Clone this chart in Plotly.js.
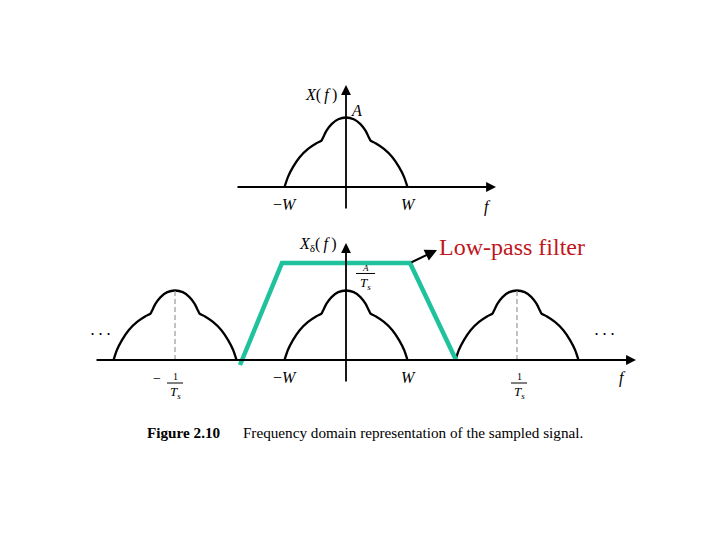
<!DOCTYPE html>
<html>
<head>
<meta charset="utf-8">
<script src="https://cdn.plot.ly/plotly-3.0.1.min.js"></script>
<style>html,body{margin:0;padding:0;background:#fff;}#chart{width:720px;height:540px;}</style>
</head>
<body>
<div id="chart"></div>
<script>
// Spectrum shape X(f), f in units of W, amplitude in units of A
const shapeF = [-1.0, -0.945, -0.863, -0.754, -0.617, -0.481, -0.399, -0.372, -0.317, -0.235, -0.126, 0,
                0.126, 0.235, 0.317, 0.372, 0.399, 0.481, 0.617, 0.754, 0.863, 0.945, 1.0];
const shapeA = [0, 0.143, 0.286, 0.429, 0.548, 0.629, 0.667, 0.714, 0.810, 0.905, 0.976, 1.0,
                0.976, 0.905, 0.810, 0.714, 0.667, 0.629, 0.548, 0.429, 0.286, 0.143, 0];
// Replica centres (multiples of 1/Ts), in units of W
const copyCenters = [-2.78, 0, 2.78];
// Low-pass filter outline
const filterF = [-1.724, -1.041, 1.041, 1.789];
const filterA = [-0.072, 1.396, 1.396, 0];
// Tick / label texts
const topLabels = ["\u2212<i>W</i>", "<i>W</i>"];
const topLabelF = [-0.992, 1.008];

const serif = "Liberation Serif, Times New Roman, serif";
const traces = [];
// Top: X(f)
traces.push({x: shapeF, y: shapeA, xaxis: 'x', yaxis: 'y', mode: 'lines',
  line: {color: '#000', width: 2.3, shape: 'spline', smoothing: 0.6}, hoverinfo: 'skip'});
// Bottom: replicas
copyCenters.forEach(c => {
  traces.push({x: shapeF.map(f => f + c), y: shapeA, xaxis: 'x', yaxis: 'y2', mode: 'lines',
    line: {color: '#000', width: 2.3, shape: 'spline', smoothing: 0.6}, hoverinfo: 'skip'});
  if (c !== 0) {
    traces.push({x: [c, c], y: [0, 1], xaxis: 'x', yaxis: 'y2', mode: 'lines',
      line: {color: '#999', width: 1.2, dash: '5px,3px'}, hoverinfo: 'skip'});
  }
});
// Filter
traces.push({x: filterF, y: filterA, xaxis: 'x', yaxis: 'y2', mode: 'lines',
  line: {color: '#1fc29c', width: 4.5}, hoverinfo: 'skip'});

function txt(x, y, yref, text, size, opts) {
  return Object.assign({x: x, y: y, xref: 'x', yref: yref, text: text, showarrow: false,
    font: {family: serif, size: size, color: '#000'}}, opts || {});
}
function axArrow(x, y, ax, ay, yref) {
  return {x: x, y: y, xref: 'x', yref: yref, ax: ax, ay: ay, axref: 'x', ayref: yref,
    text: '', showarrow: true, arrowhead: 2, arrowsize: 1.1, arrowwidth: 1.8, arrowcolor: '#000'};
}

const annotations = [
  // axes
  axArrow(2.439, 0, -1.789, 0, 'y'),
  axArrow(0, 1.468, 0, -0.331, 'y'),
  axArrow(4.715, 0, -4.081, 0, 'y2'),
  axArrow(0, 1.683, 0, -0.331, 'y2'),
  // top labels
  txt(-0.400, 1.324, 'y', '<i>X</i>(<i>\u2009f</i>\u2009)', 16),
  txt(0.165, 1.094, 'y', '<i>A</i>', 16),
  txt(topLabelF[0], -0.245, 'y', topLabels[0], 16),
  txt(topLabelF[1], -0.245, 'y', topLabels[1], 16),
  txt(2.293, -0.288, 'y', '<i>f</i>', 16),
  // bottom labels
  txt(-0.455, 1.655, 'y2', '<i>X</i><sub>\u03b4</sub>(<i>\u2009f</i>\u2009)', 16),
  txt(0.309, 1.330, 'y2', '<i>A</i>', 9),
  txt(0.309, 1.100, 'y2', '<i>T<sub>s</sub></i>', 13),
  txt(-4.0, 0.36, 'y2', '\u22c5\u2009\u22c5\u2009\u22c5', 16),
  txt(4.195, 0.36, 'y2', '\u22c5\u2009\u22c5\u2009\u22c5', 16),
  txt(-3.073, -0.273, 'y2', '\u2212', 14),
  txt(-2.78, -0.240, 'y2', '1', 10),
  txt(-2.78, -0.470, 'y2', '<i>T<sub>s</sub></i>', 13),
  txt(-0.992, -0.245, 'y2', topLabels[0], 16),
  txt(1.008, -0.245, 'y2', topLabels[1], 16),
  txt(2.813, -0.240, 'y2', '1', 10),
  txt(2.813, -0.470, 'y2', '<i>T<sub>s</sub></i>', 13),
  txt(4.488, -0.259, 'y2', '<i>f</i>', 16),
  // filter label + arrow
  {x: 1.480, y: 1.583, xref: 'x', yref: 'y2', ax: 1.041, ay: 1.396, axref: 'x', ayref: 'y2',
   text: '', showarrow: true, arrowhead: 2, arrowsize: 1.2, arrowwidth: 2, arrowcolor: '#000'},
  txt(1.480, 1.620, 'y2', 'Low-pass filter', 24, {xanchor: 'left', font: {family: serif, size: 24, color: '#c0161d'}}),
  // caption
  txt(-3.268, -1.036, 'y2', '<b>Figure 2.10</b>\u2003\u2002Frequency domain representation of the sampled signal.', 15.2, {xanchor: 'left'})
];

const shapes = [
  {type: 'line', xref: 'x', yref: 'y2', x0: 0.163, x1: 0.472, y0: 1.245, y1: 1.245, line: {color: '#000', width: 1}},
  {type: 'line', xref: 'x', yref: 'y2', x0: -2.910, x1: -2.650, y0: -0.331, y1: -0.331, line: {color: '#000', width: 1}},
  {type: 'line', xref: 'x', yref: 'y2', x0: 2.683, x1: 2.943, y0: -0.331, y1: -0.331, line: {color: '#000', width: 1}}
];

const layout = {
  width: 720, height: 540,
  margin: {l: 0, r: 0, t: 0, b: 0},
  paper_bgcolor: '#fff', plot_bgcolor: '#fff',
  showlegend: false,
  xaxis: {range: [-5.626, 6.081], visible: false, fixedrange: true},
  yaxis: {range: [-5.079, 2.691], visible: false, fixedrange: true},
  yaxis2: {range: [-2.590, 5.180], visible: false, overlaying: 'y', fixedrange: true},
  annotations: annotations,
  shapes: shapes
};

Plotly.newPlot('chart', traces, layout, {displayModeBar: false, staticPlot: true});
</script>
</body>
</html>
